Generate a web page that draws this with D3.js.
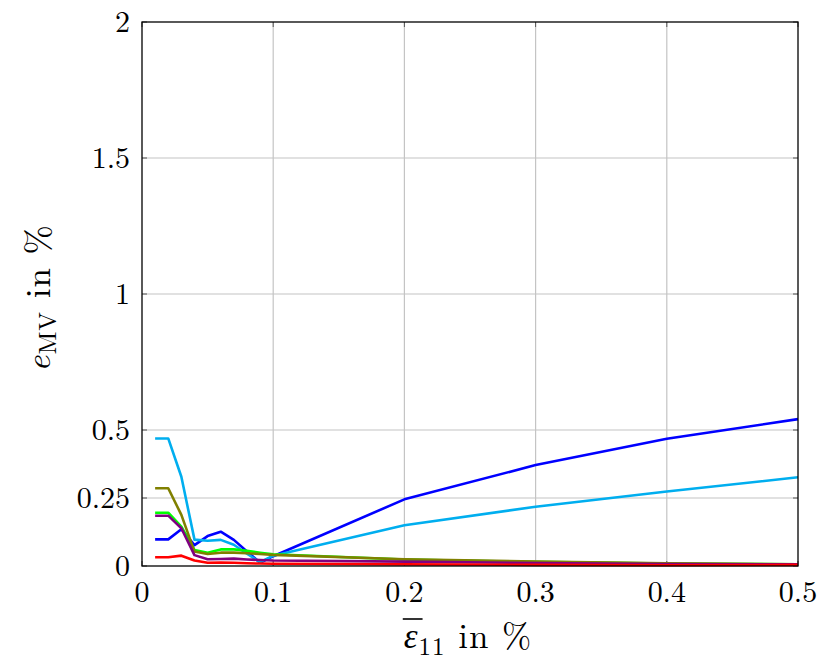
<!DOCTYPE html>
<html>
<head>
<meta charset="utf-8">
<script src="https://cdn.jsdelivr.net/npm/d3@7"></script>
<style>
  body { margin: 0; background: #fff; }
  text { font-family: "Latin Modern Roman", "CMU Serif", "Liberation Serif", serif; fill: #000; }
</style>
</head>
<body>
<svg id="chart" width="831" height="671"></svg>
<script>
// strain levels (x) in %
var strain = [0.01, 0.02, 0.03, 0.04, 0.05, 0.06, 0.07, 0.08, 0.09, 0.1, 0.2, 0.3, 0.4, 0.5];

// e_MV in % for each curve
var blueErr   = [0.098, 0.098, 0.135, 0.077, 0.110, 0.126, 0.096, 0.053, 0.012, 0.036, 0.245, 0.371, 0.468, 0.540];
var cyanErr   = [0.469, 0.469, 0.328, 0.097, 0.093, 0.096, 0.078, 0.045, 0.014, 0.038, 0.150, 0.218, 0.274, 0.326];
var greenErr  = [0.196, 0.196, 0.145, 0.059, 0.049, 0.061, 0.061, 0.056, 0.049, 0.043, 0.024, 0.015, 0.009, 0.006];
var oliveErr  = [0.286, 0.286, 0.188, 0.053, 0.044, 0.049, 0.049, 0.047, 0.044, 0.041, 0.025, 0.016, 0.010, 0.006];
var purpleErr = [0.185, 0.185, 0.139, 0.040, 0.025, 0.026, 0.027, 0.024, 0.022, 0.020, 0.016, 0.011, 0.007, 0.006];
var redErr    = [0.032, 0.032, 0.038, 0.020, 0.012, 0.013, 0.012, 0.010, 0.009, 0.008, 0.006, 0.004, 0.003, 0.004];

var xTicks = [0, 0.1, 0.2, 0.3, 0.4, 0.5];
var yTicks = [0, 0.25, 0.5, 1, 1.5, 2];

var series = [
  {vals: blueErr,   color: "#0000ff"},
  {vals: cyanErr,   color: "#00aeef"},
  {vals: greenErr,  color: "#00ff00"},
  {vals: oliveErr,  color: "#808000"},
  {vals: purpleErr, color: "#800080"},
  {vals: redErr,    color: "#ff0000"}
];

var m = {left: 142, right: 33, top: 22, bottom: 105};
var W = 831, H = 671;
var svg = d3.select("#chart");

var x = d3.scaleLinear().domain([0, 0.5]).range([m.left, W - m.right]);
var y = d3.scaleLinear().domain([0, 2]).range([H - m.bottom, m.top]);

// grid
var g = svg.append("g");
g.selectAll("line.gx").data(xTicks.slice(1, -1)).enter().append("line")
  .attr("x1", x).attr("x2", x).attr("y1", y(0)).attr("y2", y(2))
  .attr("stroke", "#c4c4c4").attr("stroke-width", 1.2);
g.selectAll("line.gy").data(yTicks.slice(1, -1)).enter().append("line")
  .attr("y1", y).attr("y2", y).attr("x1", x(0)).attr("x2", x(0.5))
  .attr("stroke", "#c4c4c4").attr("stroke-width", 1.2);

// inner ticks on all sides
var tk = 5;
g.selectAll("line.tb").data(xTicks).enter().append("line")
  .attr("x1", x).attr("x2", x).attr("y1", y(0)).attr("y2", y(0) - tk).attr("stroke", "#555");
g.selectAll("line.tt").data(xTicks).enter().append("line")
  .attr("x1", x).attr("x2", x).attr("y1", y(2)).attr("y2", y(2) + tk).attr("stroke", "#555");
g.selectAll("line.tl").data(yTicks).enter().append("line")
  .attr("y1", y).attr("y2", y).attr("x1", x(0)).attr("x2", x(0) + tk).attr("stroke", "#555");
g.selectAll("line.tr").data(yTicks).enter().append("line")
  .attr("y1", y).attr("y2", y).attr("x1", x(0.5)).attr("x2", x(0.5) - tk).attr("stroke", "#555");

// curves
var line = d3.line().x(function (d, i) { return x(strain[i]); }).y(function (d) { return y(d); });
svg.append("g").selectAll("path").data(series).enter().append("path")
  .attr("d", function (s) { return line(s.vals); })
  .attr("fill", "none").attr("stroke", function (s) { return s.color; })
  .attr("stroke-width", 2.6).attr("stroke-linejoin", "round");

// frame
svg.append("rect").attr("x", x(0)).attr("y", y(2))
  .attr("width", x(0.5) - x(0)).attr("height", y(0) - y(2))
  .attr("fill", "none").attr("stroke", "#000").attr("stroke-width", 1.3);

// tick labels
var fmt = function (d) { return d === 0 ? "0" : String(d); };
svg.append("g").selectAll("text").data(xTicks).enter().append("text")
  .attr("x", x).attr("y", y(0) + 36).attr("text-anchor", "middle")
  .attr("font-size", 30).text(fmt);
svg.append("g").selectAll("text").data(yTicks).enter().append("text")
  .attr("x", x(0) - 12).attr("y", function (d) { return y(d) + 10; }).attr("text-anchor", "end")
  .attr("font-size", 30).text(fmt);

// x label (epsilon with bar)
var xl = svg.append("text").attr("x", 468).attr("y", 648).attr("text-anchor", "middle")
  .attr("font-size", 35).attr("letter-spacing", 1);
xl.append("tspan").attr("font-style", "italic").text("ε");
xl.append("tspan").attr("font-size", 25).attr("dy", 7).text("11");
xl.append("tspan").attr("dy", -7).text(" in %");
var eb = xl.node().getExtentOfChar(0);
svg.append("line").attr("x1", eb.x - 1).attr("x2", eb.x + eb.width + 4)
  .attr("y1", 619).attr("y2", 619).attr("stroke", "#000").attr("stroke-width", 1.6);

// y label
var yl = svg.append("text").attr("transform", "translate(50,298) rotate(-90)")
  .attr("text-anchor", "middle").attr("font-size", 35).attr("letter-spacing", 1);
yl.append("tspan").attr("font-style", "italic").text("e");
yl.append("tspan").attr("font-size", 25).attr("dy", 6).text("MV");
yl.append("tspan").attr("dy", -6).text(" in %");
</script>
</body>
</html>
